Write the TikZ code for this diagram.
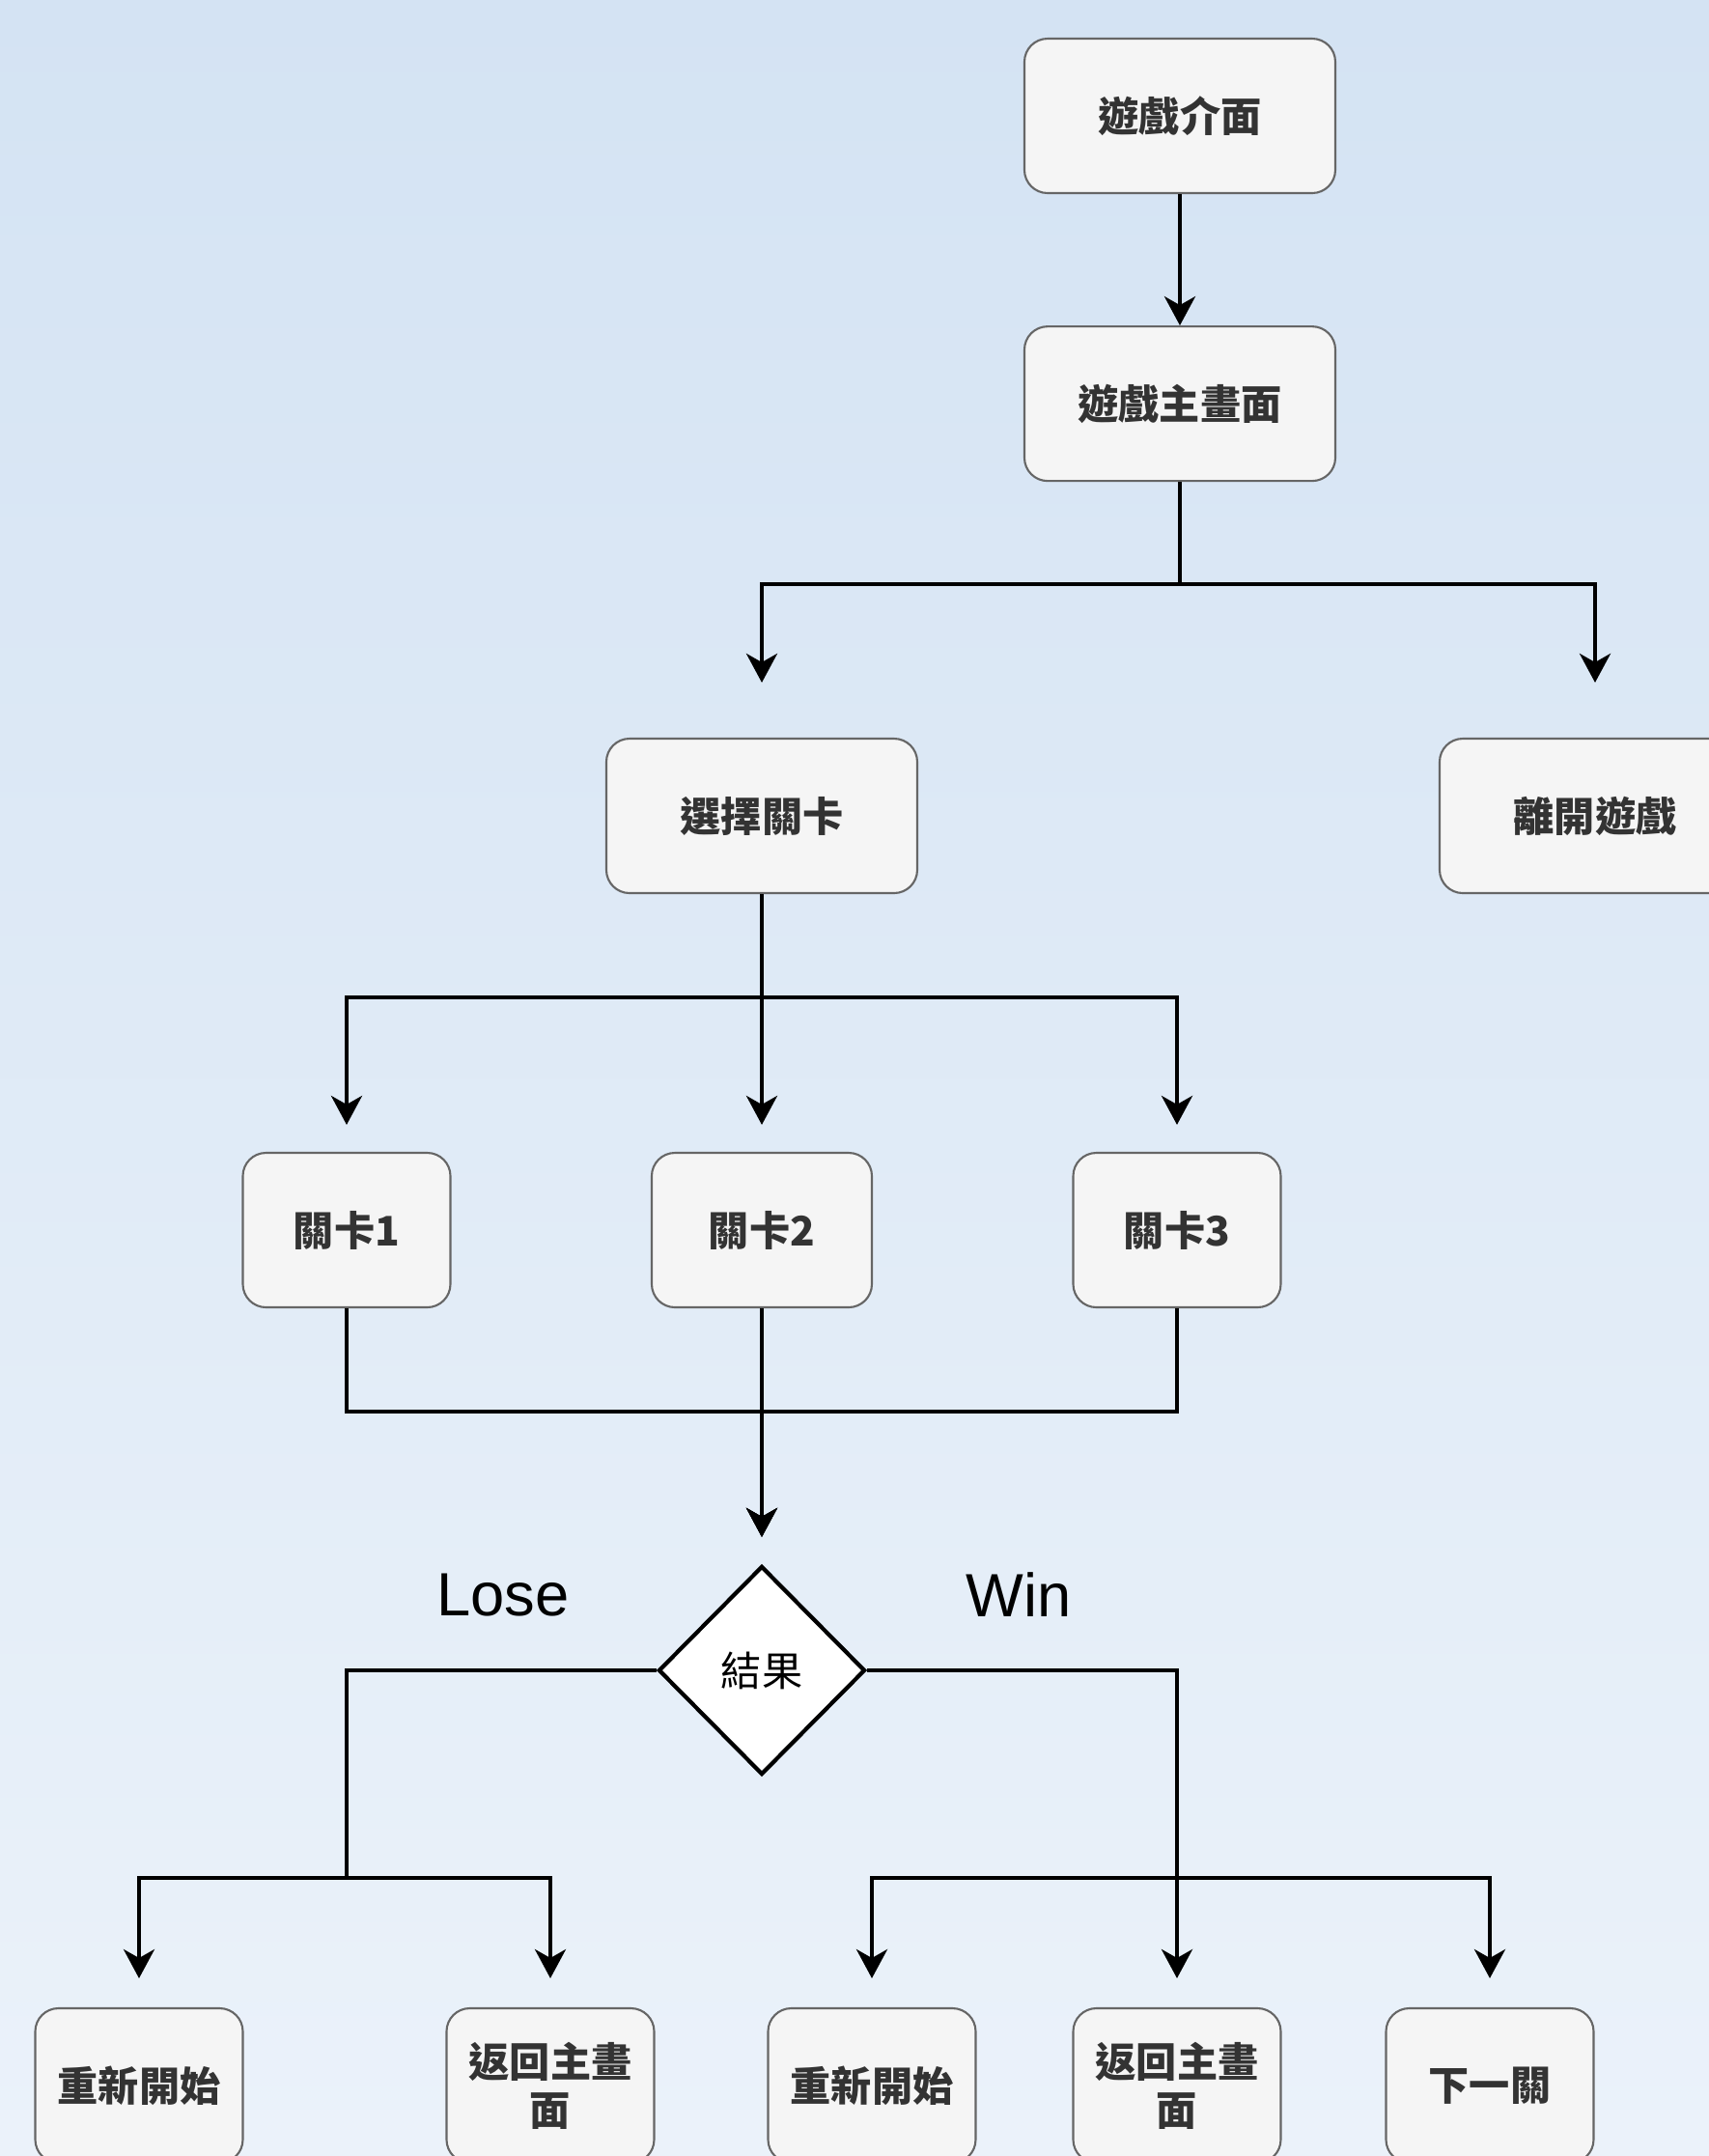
\documentclass[tikz,border=0pt]{standalone}
\usepackage{fontspec}
\setmainfont{Liberation Sans}
\newfontfamily\cjk{Noto Sans CJK TC}
\usepackage{tikz}
\usetikzlibrary{positioning, arrows.meta, shapes.geometric}
\definecolor{bgtop}{HTML}{D4E3F3}
\definecolor{bgbottom}{HTML}{EBF2FA}
\definecolor{boxfill}{HTML}{F5F5F5}
\definecolor{boxline}{HTML}{666666}
\definecolor{boxtext}{HTML}{333333}

\begin{document}
\begin{tikzpicture}[font=\cjk\bfseries\fontsize{12}{14.2}\selectfont,
  screen/.style={fill=boxfill, draw=boxline, line width=0.6pt, rounded corners=2.4mm, text=boxtext,
    minimum width=3.22cm, minimum height=1.6cm, inner sep=0pt, align=center},
  level/.style={screen, minimum width=2.15cm},
  flow/.style={-{Stealth[length=3mm, width=3.2mm, inset=0.9mm]}, line width=1.2pt},
  branch/.style={line width=1.2pt},
  tag/.style={font=\fontsize{18}{20}\selectfont}]
  \fill[top color=bgtop, bottom color=bgbottom] (0,0) rectangle (17.7,-22.33);
  \useasboundingbox (0,0) rectangle (17.7,-22.33);

  \node[screen] (intro) at (12.22,-1.20) {遊戲介面};
  \node[screen, below=1.36cm of intro] (mainmenu) {遊戲主畫面};
  \node[screen] (select) at (7.89,-8.45) {選擇關卡};
  \node[screen] (quit) at (16.52,-8.45) {離開遊戲};

  \node[level] (lvl1) at (3.59,-12.74) {關卡1};
  \node[level, minimum width=2.28cm] (lvl2) at (7.89,-12.74) {關卡2};
  \node[level] (lvl3) at (12.19,-12.74) {關卡3};

  \node[diamond, draw, fill=white, line width=1.2pt, minimum width=2.14cm, minimum height=2.16cm,
    inner sep=0pt, font=\cjk\fontsize{12}{14}\selectfont] (result) at (7.89,-17.30) {結果};
  \node[tag] (lose) at (5.21,-16.52) {Lose};
  \node[tag] (win) at (10.55,-16.52) {Win};

  \node[level] (lrestart) at (1.44,-21.60) {重新開始};
  \node[level] (lback) at (5.70,-21.60) {返回主畫\\面};
  \node[level] (wrestart) at (9.03,-21.60) {重新開始};
  \node[level] (wback) at (12.19,-21.60) {返回主畫\\面};
  \node[level] (next) at (15.43,-21.60) {下一關};

  \draw[flow] (intro) -- (mainmenu);
  \draw[flow, shorten >=5.7mm] (mainmenu.south) -- ++(0,-1.06) -| (select);
  \draw[flow, shorten >=5.7mm] (mainmenu.south) -- ++(0,-1.06) -| (quit);

  \draw[flow, shorten >=2.8mm] (select.south) -- ++(0,-1.07) -| (lvl1);
  \draw[flow, shorten >=2.8mm] (select) -- (lvl2);
  \draw[flow, shorten >=2.8mm] (select.south) -- ++(0,-1.07) -| (lvl3);

  \draw[flow, shorten >=2.8mm] (lvl1.south) -- ++(0,-1.07) -| (result);
  \draw[flow, shorten >=2.8mm] (lvl2) -- (result);
  \draw[flow, shorten >=2.8mm] (lvl3.south) -- ++(0,-1.07) -| (result);

  \coordinate (losesplit) at (3.59,-19.45);
  \draw[branch] (result.west) -| (losesplit);
  \draw[flow, shorten >=3mm] (losesplit) -| (lrestart);
  \draw[flow, shorten >=3mm] (losesplit) -| (lback);

  \coordinate (winsplit) at (12.19,-19.45);
  \draw[flow, shorten >=3mm] (result.east) -| (wback);
  \draw[flow, shorten >=3mm] (winsplit) -| (wrestart);
  \draw[flow, shorten >=3mm] (winsplit) -| (next);
\end{tikzpicture}
\end{document}
